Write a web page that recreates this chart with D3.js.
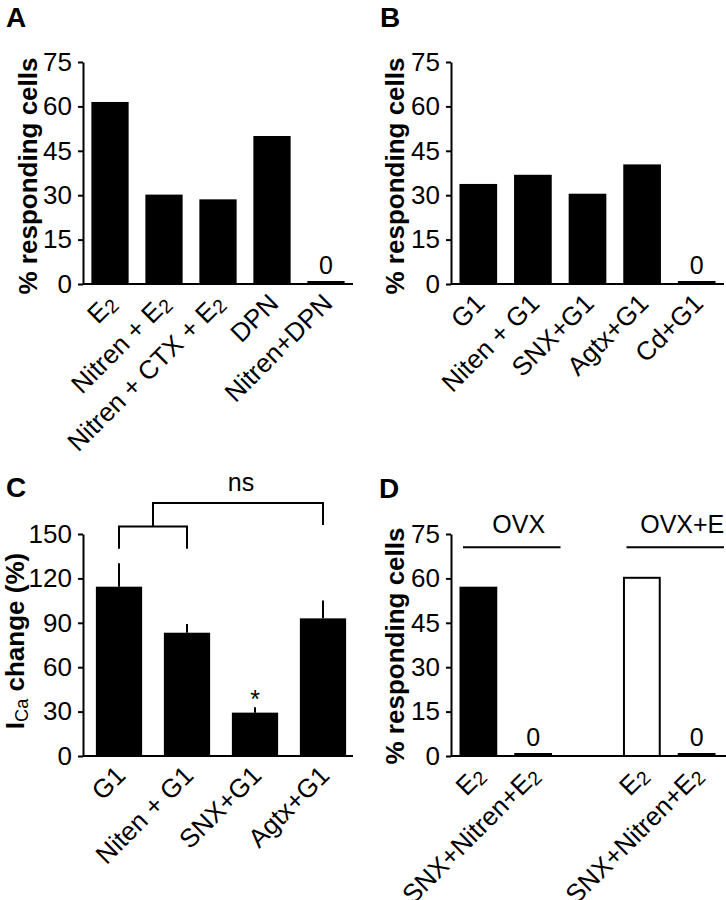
<!DOCTYPE html>
<html><head><meta charset="utf-8">
<script src="https://cdn.jsdelivr.net/npm/d3@7/dist/d3.min.js"></script>
<style>
body{margin:0;background:#fff}
text{font-family:"Liberation Sans",Arial,Helvetica,sans-serif;fill:#000}
</style>
</head><body>
<svg id="c" width="726" height="900"></svg>
<script>
// ---------- DATA ----------
const aCategories = ["E_2", "Nitren + E_2", "Nitren + CTX + E_2", "DPN", "Nitren+DPN"];
const aValues = [61.5, 30.2, 28.6, 50.0, 0];

const bCategories = ["G1", "Niten + G1", "SNX+G1", "Agtx+G1", "Cd+G1"];
const bValues = [33.8, 36.9, 30.5, 40.4, 0];

const cCategories = ["G1", "Niten + G1", "SNX+G1", "Agtx+G1"];
const cMeans = [114.4, 83.3, 29.3, 93.0];
const cErrors = [15.8, 5.9, 3.6, 12.0];

const dGroups = ["OVX", "OVX+E"];
const dConditions = ["E_2", "SNX+Nitren+E_2"];
const dValuesOVX = [57.2, 0];
const dValuesOVXE = [60.2, 0];

const pctTicks = [0, 15, 30, 45, 60, 75];
const icaTicks = [0, 30, 60, 90, 120, 150];

// ---------- HELPERS ----------
const svg = d3.select("#c");
const FONT = 25;
const XFONT = 26;
const TICKFONT = 26;

function addSubText(sel, str) {
  const p = str.split("_");
  sel.append("tspan").text(p[0]);
  if (p[1]) sel.append("tspan").attr("font-size", "75%").attr("dy", 3).text(p[1]);
}

function yAxis(g, y, ticks) {
  const ax = g.call(d3.axisLeft(y).tickValues(ticks).tickSize(5).tickSizeOuter(0).tickPadding(6));
  ax.attr("font-family", null).attr("font-size", null);
  ax.select(".domain").attr("stroke", "#000").attr("stroke-width", 2);
  ax.selectAll(".tick line").attr("stroke", "#000").attr("stroke-width", 2);
  ax.selectAll(".tick text").attr("font-size", TICKFONT).attr("fill", "#000");
}

function xLabels(g, x, cats, y0) {
  cats.forEach(c => {
    const t = g.append("text")
      .attr("transform", `translate(${x(c) + x.bandwidth() / 2 + 8},${y0 + 21}) rotate(-45)`)
      .attr("text-anchor", "end")
      .attr("font-size", XFONT);
    addSubText(t, c);
  });
}

function panelLetter(txt, x, y) {
  svg.append("text").attr("x", x).attr("y", y).attr("font-size", 28)
    .attr("font-weight", "bold").text(txt);
}

function pctLabel(x, yMid) {
  svg.append("text")
    .attr("transform", `translate(${x},${yMid}) rotate(-90)`)
    .attr("text-anchor", "middle").attr("font-size", 26).attr("font-weight", "bold")
    .text("% responding cells");
}

function simpleBarPanel(cats, vals, axisX, rangeEnd, y0, yTop) {
  const g = svg.append("g");
  const y = d3.scaleLinear().domain([0, 75]).range([y0, yTop]);
  const x = d3.scaleBand().domain(cats).range([axisX, rangeEnd]).paddingInner(0.31).paddingOuter(0.155);
  cats.forEach((c, i) => {
    const v = vals[i];
    const top = v > 0 ? y(v) : y0 - 3;
    g.append("rect").attr("x", x(c)).attr("y", top).attr("width", x.bandwidth())
      .attr("height", y0 - top).attr("fill", "#000");
    if (v === 0) {
      g.append("text").attr("x", x(c) + x.bandwidth() / 2).attr("y", top - 7)
        .attr("text-anchor", "middle").attr("font-size", FONT).text("0");
    }
  });
  g.append("line").attr("x1", axisX).attr("x2", rangeEnd).attr("y1", y0).attr("y2", y0)
    .attr("stroke", "#000").attr("stroke-width", 2);
  yAxis(g.append("g").attr("transform", `translate(${axisX},0)`), y, pctTicks);
  xLabels(g, x, cats, y0);
}

// ---------- PANEL A ----------
panelLetter("A", 6, 27);
pctLabel(37, 176);
simpleBarPanel(aCategories, aValues, 83, 353, 284, 62);

// ---------- PANEL B ----------
panelLetter("B", 380, 27);
pctLabel(404, 176);
simpleBarPanel(bCategories, bValues, 451, 724, 284, 62);

// ---------- PANEL C ----------
panelLetter("C", 6, 497);
(function () {
  const axisX = 83, rangeEnd = 357, y0 = 756, yTop = 534;
  const g = svg.append("g");
  const y = d3.scaleLinear().domain([0, 150]).range([y0, yTop]);
  const x = d3.scaleBand().domain(cCategories).range([axisX + 2, rangeEnd]).paddingInner(0.32).paddingOuter(0.16);
  const cx = c => x(c) + x.bandwidth() / 2;
  cCategories.forEach((c, i) => {
    g.append("line").attr("x1", cx(c)).attr("x2", cx(c))
      .attr("y1", y(cMeans[i])).attr("y2", y(cMeans[i] + cErrors[i]))
      .attr("stroke", "#000").attr("stroke-width", 2);
    g.append("rect").attr("x", x(c)).attr("y", y(cMeans[i])).attr("width", x.bandwidth())
      .attr("height", y0 - y(cMeans[i])).attr("fill", "#000");
  });
  // significance asterisk over SNX+G1
  const si = 2;
  g.append("text").attr("x", cx(cCategories[si])).attr("y", y(cMeans[si] + cErrors[si]) + 1)
    .attr("text-anchor", "middle").attr("font-size", FONT).text("*");
  // brackets
  const lowY = 155, lowLeg = 140, upY = 171, upLeg = 156;
  const l0 = cx(cCategories[0]), l1 = cx(cCategories[1]);
  const mid = (l0 + l1) / 2, r = cx(cCategories[3]);
  g.append("path").attr("d", `M${l0},${y(lowLeg)}V${y(lowY)}H${l1}V${y(lowLeg)}`)
    .attr("fill", "none").attr("stroke", "#000").attr("stroke-width", 2);
  g.append("path").attr("d", `M${mid},${y(lowY)}V${y(upY)}H${r}V${y(upLeg)}`)
    .attr("fill", "none").attr("stroke", "#000").attr("stroke-width", 2);
  g.append("text").attr("x", (mid + r) / 2 + 3).attr("y", y(upY) - 12)
    .attr("text-anchor", "middle").attr("font-size", FONT).text("ns");
  g.append("line").attr("x1", axisX).attr("x2", rangeEnd - 4).attr("y1", y0).attr("y2", y0)
    .attr("stroke", "#000").attr("stroke-width", 2);
  yAxis(g.append("g").attr("transform", `translate(${axisX},0)`), y, icaTicks);
  xLabels(g, x, cCategories, y0);
  // y label
  const t = svg.append("text").attr("transform", `translate(24,${(y0 + yTop) / 2 - 4}) rotate(-90)`)
    .attr("text-anchor", "middle").attr("font-size", 26).attr("font-weight", "bold");
  t.append("tspan").text("I");
  t.append("tspan").attr("font-size", "70%").attr("font-weight", "normal").attr("dy", 4).text("Ca");
  t.append("tspan").attr("dy", -4).text(" change (%)");
})();

// ---------- PANEL D ----------
panelLetter("D", 379, 498);
pctLabel(404, 646);
(function () {
  const axisX = 451, rangeEnd = 724, y0 = 756, yTop = 534;
  const g = svg.append("g");
  const y = d3.scaleLinear().domain([0, 75]).range([y0, yTop]);
  const outer = d3.scaleBand().domain(dGroups).range([axisX, rangeEnd]).paddingInner(0.33).paddingOuter(0);
  const inner = d3.scaleBand().domain(dConditions).range([0, outer.bandwidth()]).paddingInner(0.31).paddingOuter(0.155);
  const groupVals = [dValuesOVX, dValuesOVXE];
  const groupLineValue = 70.5;
  dGroups.forEach((grp, gi) => {
    const gx = outer(grp);
    dConditions.forEach((c, ci) => {
      const v = groupVals[gi][ci];
      const top = v > 0 ? y(v) : y0 - 3;
      const white = gi === 1 && v > 0;
      g.append("rect").attr("x", gx + inner(c) + (white ? 1 : 0)).attr("y", top)
        .attr("width", inner.bandwidth() - (white ? 2 : 0)).attr("height", y0 - top)
        .attr("fill", white ? "#fff" : "#000").attr("stroke", white ? "#000" : "none").attr("stroke-width", 2);
      if (v === 0) {
        g.append("text").attr("x", gx + inner(c) + inner.bandwidth() / 2).attr("y", top - 7)
          .attr("text-anchor", "middle").attr("font-size", FONT).text("0");
      }
      const t = g.append("text")
        .attr("transform", `translate(${gx + inner(c) + inner.bandwidth() / 2 + 8},${y0 + 21}) rotate(-45)`)
        .attr("text-anchor", "end").attr("font-size", XFONT);
      addSubText(t, c);
    });
    const lx1 = gx + 12, lx2 = Math.min(gx + outer.bandwidth(), rangeEnd + 1);
    g.append("line").attr("x1", lx1).attr("x2", lx2)
      .attr("y1", y(groupLineValue)).attr("y2", y(groupLineValue))
      .attr("stroke", "#000").attr("stroke-width", 2);
    g.append("text").attr("x", (lx1 + lx2) / 2 + 7).attr("y", y(groupLineValue) - 14)
      .attr("text-anchor", "middle").attr("font-size", FONT).text(grp);
  });
  g.append("line").attr("x1", axisX).attr("x2", rangeEnd + 2).attr("y1", y0).attr("y2", y0)
    .attr("stroke", "#000").attr("stroke-width", 2);
  yAxis(g.append("g").attr("transform", `translate(${axisX},0)`), y, pctTicks);
})();
</script>
</body></html>
